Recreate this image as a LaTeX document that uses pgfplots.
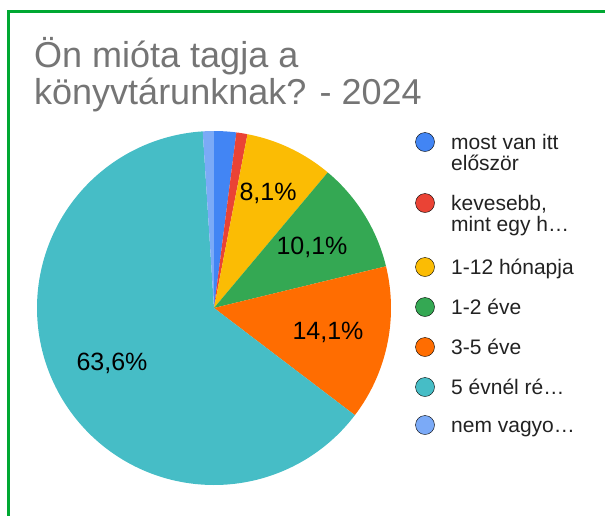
\documentclass[border=0pt]{standalone}
\usepackage{pgfplots}
\pgfplotsset{compat=1.18}
\usepackage{fontspec}
\setmainfont{Liberation Sans}
\definecolor{cBlue}{HTML}{4285F4}
\definecolor{cRed}{HTML}{EA4335}
\definecolor{cYellow}{HTML}{FBBC04}
\definecolor{cGreen}{HTML}{34A853}
\definecolor{cOrange}{HTML}{FF6D01}
\definecolor{cTeal}{HTML}{46BDC6}
\definecolor{cLight}{HTML}{7BAAF7}
\definecolor{cTitle}{HTML}{757575}
\definecolor{cText}{HTML}{222222}
\definecolor{cBorder}{HTML}{00A832}
% counts of answers (total 99); slices run clockwise from 12 o'clock
% cumulative boundaries: 0 2 3 11 21 35 98 99
\newcommand{\cx}{214}
\newcommand{\cy}{308}
\newcommand{\R}{177}
\begin{document}
\begin{tikzpicture}
\useasboundingbox (0,0) rectangle (605pt,515pt);
\begin{axis}[
  at={(0,0)}, anchor=south west,
  scale only axis, width=605pt, height=515pt,
  xmin=0, xmax=605, ymin=0, ymax=515, y dir=reverse,
  hide axis, clip=false,
]
% border
\addplot[cBorder, line width=3pt, forget plot] coordinates {(8,540) (8,11) (640,11)};
% slices: domain in degrees from cumulative counts
\addplot[fill=cBlue, draw=none, domain={360*0/99}:{360*2/99}, samples=10, variable=\t]
  ({\cx+\R*sin(\t)},{\cy-\R*cos(\t)}) -- (axis cs:\cx,\cy) -- cycle;
\addplot[fill=cRed, draw=none, domain={360*2/99}:{360*3/99}, samples=6, variable=\t]
  ({\cx+\R*sin(\t)},{\cy-\R*cos(\t)}) -- (axis cs:\cx,\cy) -- cycle;
\addplot[fill=cYellow, draw=none, domain={360*3/99}:{360*11/99}, samples=30, variable=\t]
  ({\cx+\R*sin(\t)},{\cy-\R*cos(\t)}) -- (axis cs:\cx,\cy) -- cycle;
\addplot[fill=cGreen, draw=none, domain={360*11/99}:{360*21/99}, samples=36, variable=\t]
  ({\cx+\R*sin(\t)},{\cy-\R*cos(\t)}) -- (axis cs:\cx,\cy) -- cycle;
\addplot[fill=cOrange, draw=none, domain={360*21/99}:{360*35/99}, samples=50, variable=\t]
  ({\cx+\R*sin(\t)},{\cy-\R*cos(\t)}) -- (axis cs:\cx,\cy) -- cycle;
\addplot[fill=cTeal, draw=none, domain={360*35/99}:{360*98/99}, samples=200, variable=\t]
  ({\cx+\R*sin(\t)},{\cy-\R*cos(\t)}) -- (axis cs:\cx,\cy) -- cycle;
\addplot[fill=cLight, draw=none, domain={360*98/99}:{360*99/99}, samples=6, variable=\t]
  ({\cx+\R*sin(\t)},{\cy-\R*cos(\t)}) -- (axis cs:\cx,\cy) -- cycle;
% slice labels
\begin{scope}[every node/.style={text=black, font=\fontsize{25}{25}\selectfont}]
\node at (axis cs:268,193) {8,1\%};
\node at (axis cs:312,247) {10,1\%};
\node at (axis cs:328,332) {14,1\%};
\node at (axis cs:112,363) {63,6\%};
\end{scope}
% legend markers
\addplot[only marks, mark=*, mark size=9.5pt, mark options={draw=none, fill=cBlue}] coordinates {(425,142)};
\addplot[only marks, mark=*, mark size=9.5pt, mark options={draw=none, fill=cRed}] coordinates {(425,203)};
\addplot[only marks, mark=*, mark size=9.5pt, mark options={draw=none, fill=cYellow}] coordinates {(425,267)};
\addplot[only marks, mark=*, mark size=9.5pt, mark options={draw=none, fill=cGreen}] coordinates {(425,307)};
\addplot[only marks, mark=*, mark size=9.5pt, mark options={draw=none, fill=cOrange}] coordinates {(425,347)};
\addplot[only marks, mark=*, mark size=9.5pt, mark options={draw=none, fill=cTeal}] coordinates {(425,387)};
\addplot[only marks, mark=*, mark size=9.5pt, mark options={draw=none, fill=cLight}] coordinates {(425,425)};
% legend texts (baseline positions)
\begin{scope}[every node/.style={anchor=base west, inner sep=0pt, text=cText, font=\fontsize{21}{21}\selectfont}]
\node at (axis cs:451,149) {most van itt};
\node at (axis cs:451,170) {először};
\node at (axis cs:451,210) {kevesebb,};
\node at (axis cs:451,231) {mint egy h…};
\node at (axis cs:451,274) {1-12 hónapja};
\node at (axis cs:451,314) {1-2 éve};
\node at (axis cs:451,354) {3-5 éve};
\node at (axis cs:451,394) {5 évnél ré…};
\node at (axis cs:451,432) {nem vagyo…};
\end{scope}
% title
\node[anchor=base west, inner sep=0pt, text=cTitle, font=\fontsize{36}{36}\selectfont] at (axis cs:34,67) {Ön mióta tagja a};
\node[anchor=base west, inner sep=0pt, text=cTitle, font=\fontsize{36}{36}\selectfont] at (axis cs:34,104) {könyvtárunknak? - 2024};
\end{axis}
\end{tikzpicture}
\end{document}
